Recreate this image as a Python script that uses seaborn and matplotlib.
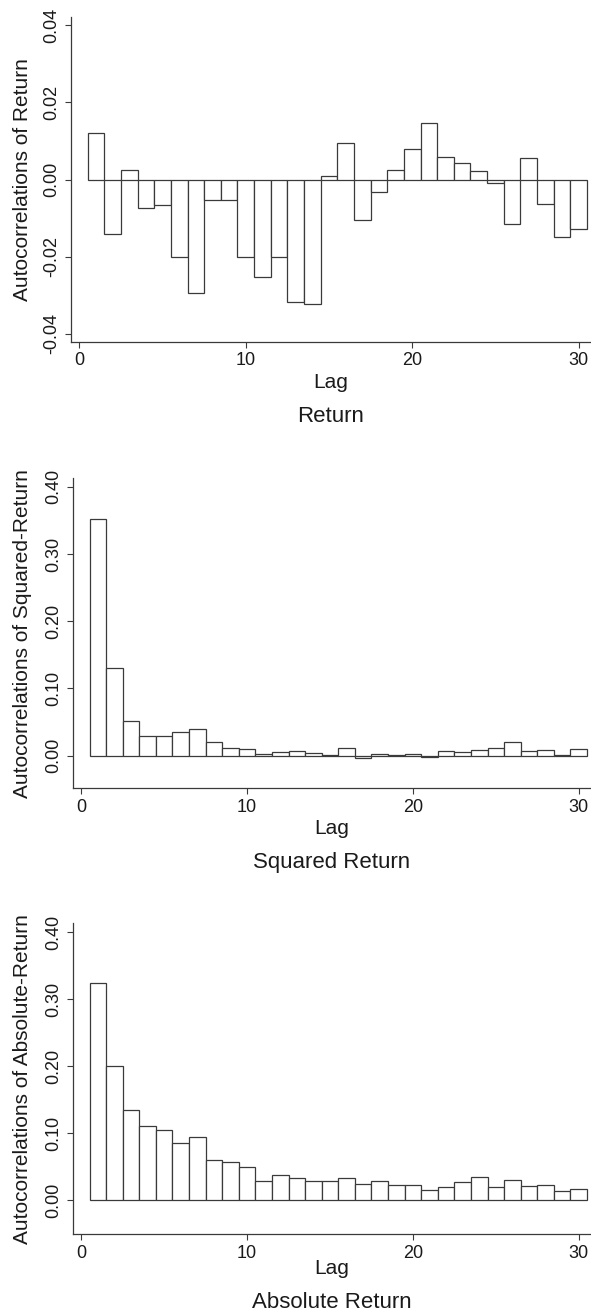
import matplotlib
matplotlib.use("Agg")
import matplotlib.pyplot as plt
import seaborn as sns

# Autocorrelations, lags 1..30
lags = list(range(1, 31))
acf_return = [0.0120, -0.0140, 0.0024, -0.0073, -0.0067, -0.0201, -0.0295, -0.0054,
              -0.0054, -0.0201, -0.0252, -0.0201, -0.0316, -0.0322, 0.0010, 0.0095,
              -0.0105, -0.0031, 0.0024, 0.0080, 0.0146, 0.0058, 0.0043, 0.0021,
              -0.0010, -0.0116, 0.0056, -0.0064, -0.0150, -0.0128]
acf_squared = [0.352, 0.130, 0.052, 0.029, 0.029, 0.035, 0.040, 0.021, 0.011, 0.010,
               0.0025, 0.006, 0.0065, 0.004, 0.0015, 0.011, -0.003, 0.0025, 0.001, 0.003,
               -0.0015, 0.007, 0.0055, 0.0085, 0.012, 0.020, 0.0065, 0.0085, 0.0015, 0.010]
acf_absolute = [0.324, 0.2005, 0.135, 0.111, 0.104, 0.0856, 0.0945, 0.0597, 0.0567, 0.0488,
                0.0284, 0.0378, 0.0323, 0.028, 0.028, 0.033, 0.0244, 0.028, 0.023, 0.023,
                0.015, 0.020, 0.027, 0.034, 0.020, 0.030, 0.021, 0.023, 0.013, 0.017]

titles = ["Return", "Squared Return", "Absolute Return"]
ylabels = ["Autocorrelations of Return", "Autocorrelations of Squared-Return",
           "Autocorrelations of Absolute-Return"]
yticks_small = [-0.04, -0.02, 0.00, 0.02, 0.04]
yticks_big = [0.00, 0.10, 0.20, 0.30, 0.40]
xticks = [0, 10, 20, 30]

sns.set_theme(style="ticks")
plt.rcParams["font.family"] = ["Liberation Sans", "DejaVu Sans"]
plt.rcParams["axes.unicode_minus"] = False

W, H = 591, 1314
fig = plt.figure(figsize=(W / 100, H / 100), dpi=100)

# pixel layout per panel: left spine x, x of lag 0, top y, bottom y, offsets of "Lag" and title
panels = [
    (acf_return, yticks_small, (-0.042, 0.0422), 70.7, 79.3, 16.7, 341.7, 41, 74.5),
    (acf_squared, yticks_big, (-0.0485, 0.4125), 72.5, 81.3, 478.3, 788.3, 40, 74),
    (acf_absolute, yticks_big, (-0.0508, 0.413), 72.5, 81.3, 923.3, 1234.0, 34, 69),
]
x30_px = 578.7
ink = "#1a1a1a"
edge = "#3a3a3a"

for i, (vals, yt, ylim, left, zero_px, top, bottom, lag_off, title_off) in enumerate(panels):
    ax = fig.add_axes([left / W, 1 - bottom / H, (W - left) / W, (bottom - top) / H])
    sns.barplot(x=lags, y=vals, native_scale=True, width=1, color="white",
                saturation=1, edgecolor=edge, linewidth=0.9, errorbar=None, ax=ax)
    px_per_lag = (x30_px - zero_px) / 30
    ax.set_xlim((left - zero_px) / px_per_lag, (W - zero_px) / px_per_lag)
    ax.set_ylim(*ylim)
    ax.set_xticks(xticks)
    ax.set_xticklabels([str(t) for t in xticks])
    ax.set_yticks(yt)
    ax.set_yticklabels([f"{t:.2f}" for t in yt], rotation=90, va="center")
    ax.tick_params(axis="both", direction="out", length=4.1, width=0.8, color=edge,
                   labelsize=13, labelcolor=ink, pad=3.5)
    for s in ["top", "right"]:
        ax.spines[s].set_visible(False)
    for s in ["left", "bottom"]:
        ax.spines[s].set_color(edge)
        ax.spines[s].set_linewidth(0.9)
    ax.set_ylabel(ylabels[i], fontsize=15, color=ink, va="center")
    ax.yaxis.set_label_coords((22.5 - left) / (W - left), 0.5)
    ax.set_xlabel("Lag", fontsize=15, color=ink, va="center")
    ax.xaxis.set_label_coords(0.5, -lag_off / (bottom - top))
    ax.annotate(titles[i], xy=(0.5, 0), xycoords="axes fraction",
                xytext=(0, -title_off), textcoords="offset pixels",
                ha="center", va="center", fontsize=16, color=ink)

fig.savefig("out.png", dpi=100)
